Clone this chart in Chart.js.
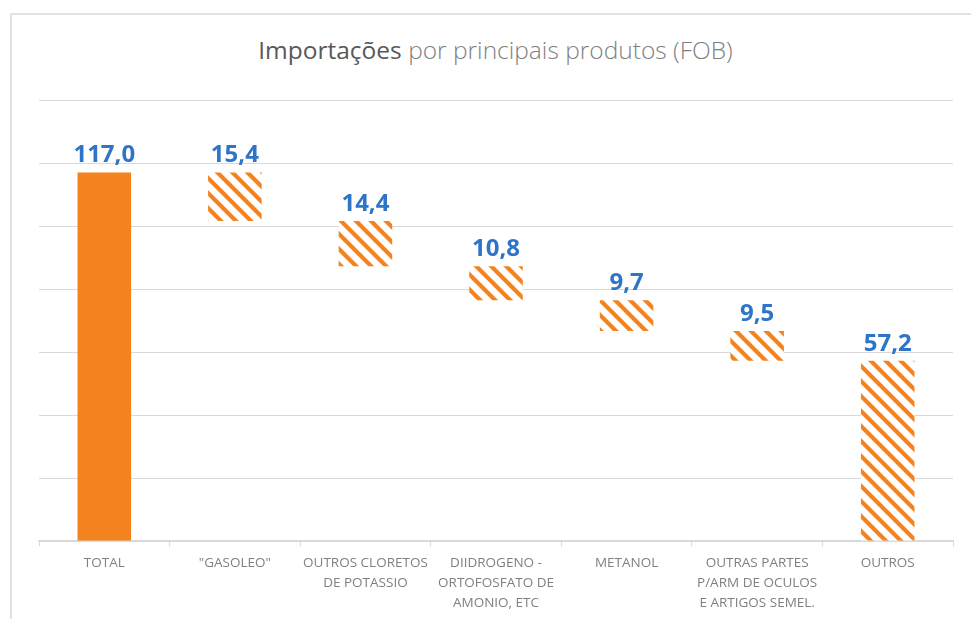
<!DOCTYPE html>
<html>
<head>
<meta charset="utf-8">
<script src="https://cdn.jsdelivr.net/npm/chart.js@4.4.1/dist/chart.umd.min.js"></script>
<style>
    body { margin: 0; background: #fff; overflow: hidden; }
    #wrap { position: relative; width: 971px; height: 619px; }
    #frame {
        position: absolute; left: 10px; top: 13px; width: 1000px; height: 700px;
        border-left: 2px solid #e2e2e2; border-top: 2px solid #e2e2e2;
    }
    #title {
        position: absolute; left: 0; top: 38px; width: 991px; text-align: center;
        font-family: "Open Sans", sans-serif; font-size: 24.5px; line-height: 24px;
        font-weight: 300; color: #7f7f7f;
    }
    #title span { color: #595959; font-weight: 400; }
    canvas { position: absolute; left: 0; top: 0; }
</style>
</head>
<body>
<div id="wrap">
    <div id="frame"></div>
    <div id="title"><span>Importações</span> por principais produtos (FOB)</div>
    <canvas id="canvas" width="971" height="619"></canvas>
</div>
<script>
// values (first bar is the total, the rest step down from it)
var categories = [
    'TOTAL',
    '"GASOLEO"',
    ['OUTROS CLORETOS', 'DE POTASSIO'],
    ['DIIDROGENO -', 'ORTOFOSFATO DE', 'AMONIO, ETC'],
    'METANOL',
    ['OUTRAS PARTES', 'P/ARM DE OCULOS', 'E ARTIGOS SEMEL.'],
    'OUTROS'
];
var values = [117.0, 15.4, 14.4, 10.8, 9.7, 9.5, 57.2];
var yTicks = [0, 20, 40, 60, 80, 100, 120, 140];

var orange = '#F4821F';
var labelBlue = '#2E75C8';

// diagonal stripes for the step bars
function hatch() {
    var size = 15;
    var c = document.createElement('canvas');
    c.width = size; c.height = size;
    var g = c.getContext('2d');
    g.fillStyle = '#fff';
    g.fillRect(0, 0, size, size);
    g.strokeStyle = orange;
    g.lineWidth = 4.2;
    g.beginPath();
    g.moveTo(-size, -size); g.lineTo(2 * size, 2 * size);
    g.moveTo(-size, 0); g.lineTo(size, 2 * size);
    g.moveTo(0, -size); g.lineTo(2 * size, size);
    g.stroke();
    return g.createPattern(c, 'repeat');
}

// floating ranges: total from zero, then each step hangs off the running level
var ranges = [];
var level = values[0];
ranges.push([0, values[0]]);
for (var i = 1; i < values.length; i++) {
    ranges.push([+(level - values[i]).toFixed(1), level]);
    level = +(level - values[i]).toFixed(1);
}

var pattern = hatch();
var colors = values.map(function (v, i) { return i === 0 ? orange : pattern; });

var valueLabels = {
    id: 'valueLabels',
    afterDatasetsDraw: function (chart) {
        var ctx = chart.ctx;
        var meta = chart.getDatasetMeta(0);
        ctx.save();
        ctx.font = 'bold 24px "Open Sans", sans-serif';
        ctx.fillStyle = labelBlue;
        ctx.textAlign = 'center';
        ctx.textBaseline = 'bottom';
        meta.data.forEach(function (bar, i) {
            ctx.fillText(values[i].toFixed(1).replace('.', ','), bar.x, bar.y - 5);
        });
        ctx.restore();
    }
};

new Chart(document.getElementById('canvas'), {
    type: 'bar',
    data: {
        labels: categories,
        datasets: [{
            data: ranges,
            backgroundColor: colors,
            borderWidth: 0,
            categoryPercentage: 1,
            barPercentage: 0.41
        }]
    },
    options: {
        responsive: false,
        animation: false,
        layout: { padding: { left: 39, right: 18, top: 100, bottom: 0 } },
        plugins: {
            legend: { display: false },
            title: { display: false },
            tooltip: { enabled: false }
        },
        scales: {
            x: {
                grid: { drawOnChartArea: false, color: '#d9d9d9', tickLength: 5 },
                border: { color: '#d9d9d9', width: 1.5 },
                ticks: {
                    color: '#808080',
                    font: { family: '"Open Sans", sans-serif', size: 13.5, lineHeight: 1.48 },
                    padding: 7,
                    maxRotation: 0,
                    autoSkip: false
                },
                afterFit: function (s) { s.height = 78; }
            },
            y: {
                min: 0,
                max: 140,
                afterBuildTicks: function (s) {
                    s.ticks = yTicks.map(function (v) { return { value: v }; });
                },
                grid: { color: '#d9d9d9', drawTicks: false },
                border: { display: false },
                ticks: { display: false },
                afterFit: function (s) { s.width = 0; }
            }
        }
    },
    plugins: [valueLabels]
});
</script>
</body>
</html>
